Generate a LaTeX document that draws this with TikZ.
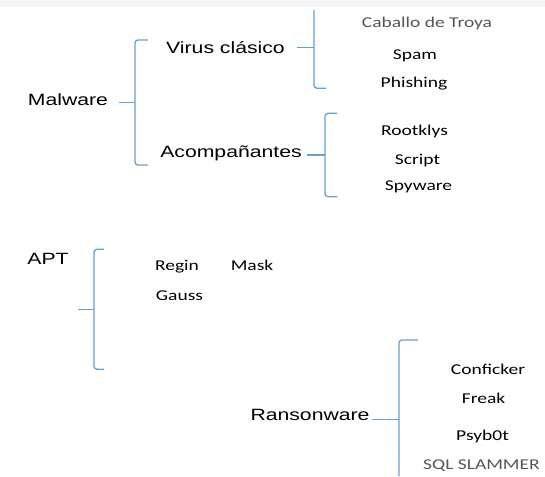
\documentclass[tikz,border=0pt]{standalone}
\usepackage{fontspec}
\usepackage{graphicx}
\setmainfont{Liberation Sans}
\newfontfamily\itemfont{Carlito}
\definecolor{bracec}{RGB}{100,158,214}
\definecolor{greytxt}{RGB}{85,85,85}
\newcommand\sx[1]{\scalebox{1.3}[1]{#1}}
\tikzset{
  big/.style={inner sep=0pt, anchor=base, font=\fontsize{16.3}{18}\selectfont},
  itm/.style={inner sep=0pt, anchor=base, font=\itemfont\fontsize{15}{17}\selectfont},
  gitm/.style={itm, text=greytxt},
  br/.style={draw=bracec, line width=1.3pt, rounded corners=3pt}
}
\begin{document}
\begin{tikzpicture}[x=1pt,y=-1pt]
\useasboundingbox (0,0) rectangle (545,476);
\fill[black!4] (0,0) rectangle (545,7);
% labels
\node[big] (mal) at (68,106) {\sx{Malware}};
\node[big] (vir) at (225.5,53.3) {\sx{Virus clásico}};
\node[big] (aco) at (231,157.7) {\sx{Acompañantes}};
\node[big] (apt) at (48,264.3) {\sx{APT}};
\node[big] (ran) at (310,420) {\sx{Ransonware}};
% items
\node[gitm] (cab) at (427,27.3) {\sx{Caballo de Troya}};
\node[itm] (spa) at (415,59.3) {\sx{Spam}};
\node[itm] (phi) at (414,87.3) {\sx{Phishing}};
\node[itm] (roo) at (414.5,135) {\sx{Rootklys}};
\node[itm] (scr) at (417.5,164) {\sx{Script}};
\node[itm] (spy) at (418.5,190.7) {\sx{Spyware}};
\node[itm] (reg) at (177,270.7) {\sx{Regin}};
\node[itm] (mas) at (252,270.7) {\sx{Mask}};
\node[itm] (gau) at (179.5,300.7) {\sx{Gauss}};
\node[itm] (con) at (488,374) {\sx{Conficker}};
\node[itm] (fre) at (483.5,403.3) {\sx{Freak}};
\node[itm] (psy) at (482.5,440) {\sx{Psyb0t}};
\node[gitm, anchor=base west] (sql) at (423,469.3) {\sx{SQL SLAMMER}};
% brace coordinates
\coordinate (ms) at (119,102.7);  \coordinate (mm) at (135,102.7);
\coordinate (mt) at (148,40);     \coordinate (mb) at (148,165);
\coordinate (vs) at (297,47.3);   \coordinate (vm) at (314,47.3);
\coordinate (vt) at (314,10);     \coordinate (vb) at (326,88.3);
\coordinate (as) at (307,155);    \coordinate (am) at (325,155);
\coordinate (at) at (337,113.3);  \coordinate (ab) at (337,196.7);
\coordinate (ps) at (78,309.3);   \coordinate (pm) at (94,309.3);
\coordinate (pt) at (104,249.3);  \coordinate (pb) at (104,369.3);
\coordinate (rs) at (371.5,419.3);\coordinate (rm) at (399,419.3);
\coordinate (rt) at (418,340);    \coordinate (rb) at (399,476);
% braces
\draw[br] (mt) -| (mm) |- (mb);
\draw[br] (ms) -- (mm);
\draw[br] (vt) -- (vm) |- (vb);
\draw[br] (vs) -- (vm);
\draw[br] (at) -| (am) |- (ab);
\draw[br] (as) -- (am);
\draw[br] (pt) -| (pm) |- (pb);
\draw[br] (ps) -- (pm);
\draw[br] (rt) -| (rm) -- (rb);
\draw[br] (rs) -- (rm);
\end{tikzpicture}
\end{document}
